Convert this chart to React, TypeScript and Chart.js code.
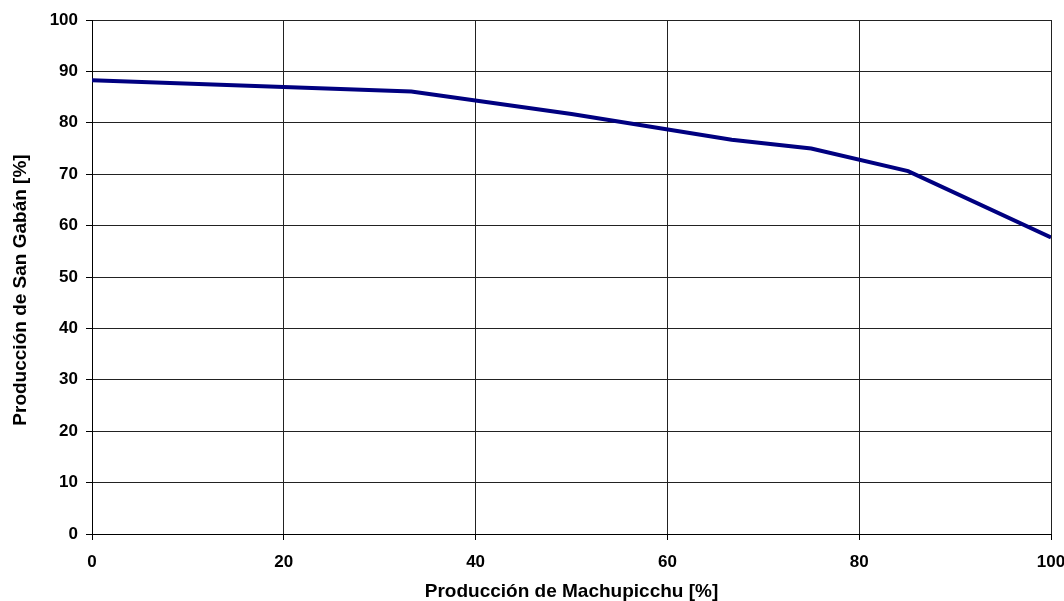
import React, { useEffect, useRef } from "react";
import { Chart, registerables } from "chart.js";

Chart.register(...registerables);

const machupicchu = [0, 33.3, 50, 66.7, 75, 85.1, 100];
const sanGaban = [88.3, 86.1, 81.7, 76.7, 75.0, 70.6, 57.7];
const xTitle = "Producción de Machupicchu [%]";
const yTitle = "Producción de San Gabán [%]";

export default function App() {
  const ref = useRef<HTMLCanvasElement>(null);
  useEffect(() => {
    if (!ref.current) return;
    const font = "'Liberation Sans', Arial, sans-serif";
    const yTitlePlugin = {
      id: "yTitle",
      afterDraw(chart: any) {
        const ctx = chart.ctx;
        const y = chart.scales.y;
        ctx.save();
        ctx.translate(21, (y.top + y.bottom) / 2 + 13);
        ctx.rotate(-Math.PI / 2);
        ctx.font = `bold 19px ${font}`;
        ctx.fillStyle = "#000";
        ctx.textAlign = "center";
        ctx.textBaseline = "middle";
        ctx.fillText(yTitle, 0, 0);
        ctx.restore();
      },
    };
    const chart = new Chart(ref.current, {
      type: "line",
      data: {
        datasets: [
          {
            data: machupicchu.map((x, i) => ({ x, y: sanGaban[i] })),
            borderColor: "#000080",
            borderWidth: 4,
            pointRadius: 0,
            tension: 0,
            fill: false,
          },
        ],
      },
      options: {
        animation: false,
        responsive: false,
        maintainAspectRatio: false,
        layout: { padding: { top: 20, right: 13, bottom: 0, left: 0 } },
        plugins: { legend: { display: false }, tooltip: { enabled: false } },
        scales: {
          x: {
            type: "linear",
            min: 0,
            max: 100,
            ticks: { stepSize: 20, padding: 12, color: "#000", font: { family: font, size: 17, weight: "bold" }, maxRotation: 0 },
            grid: { color: "#222", lineWidth: 1, tickLength: 6, tickColor: "#000" },
            border: { color: "#000", width: 1 },
            title: { display: true, text: xTitle, color: "#000", font: { family: font, size: 19, weight: "bold" }, padding: { top: 0, bottom: -2 } },
            afterFit: (s: any) => { s.height = 67; s.paddingLeft = 0; s.paddingRight = 0; },
          },
          y: {
            type: "linear",
            min: 0,
            max: 100,
            ticks: { stepSize: 10, padding: 8, color: "#000", font: { family: font, size: 17, weight: "bold" } },
            grid: { color: "#222", lineWidth: 1, tickLength: 6, tickColor: "#000" },
            border: { color: "#000", width: 1 },
            title: { display: false, text: yTitle },
            afterFit: (s: any) => { s.width = 92; s.paddingTop = 0; s.paddingBottom = 0; },
          },
        },
      },
      plugins: [yTitlePlugin],
    });
    return () => chart.destroy();
  }, []);
  return (
    <div style={{ position: "absolute", left: 0, top: 0, width: 1064, height: 601, background: "#fff" }}>
      <canvas ref={ref} width={1064} height={601} style={{ display: "block" }} />
    </div>
  );
}
